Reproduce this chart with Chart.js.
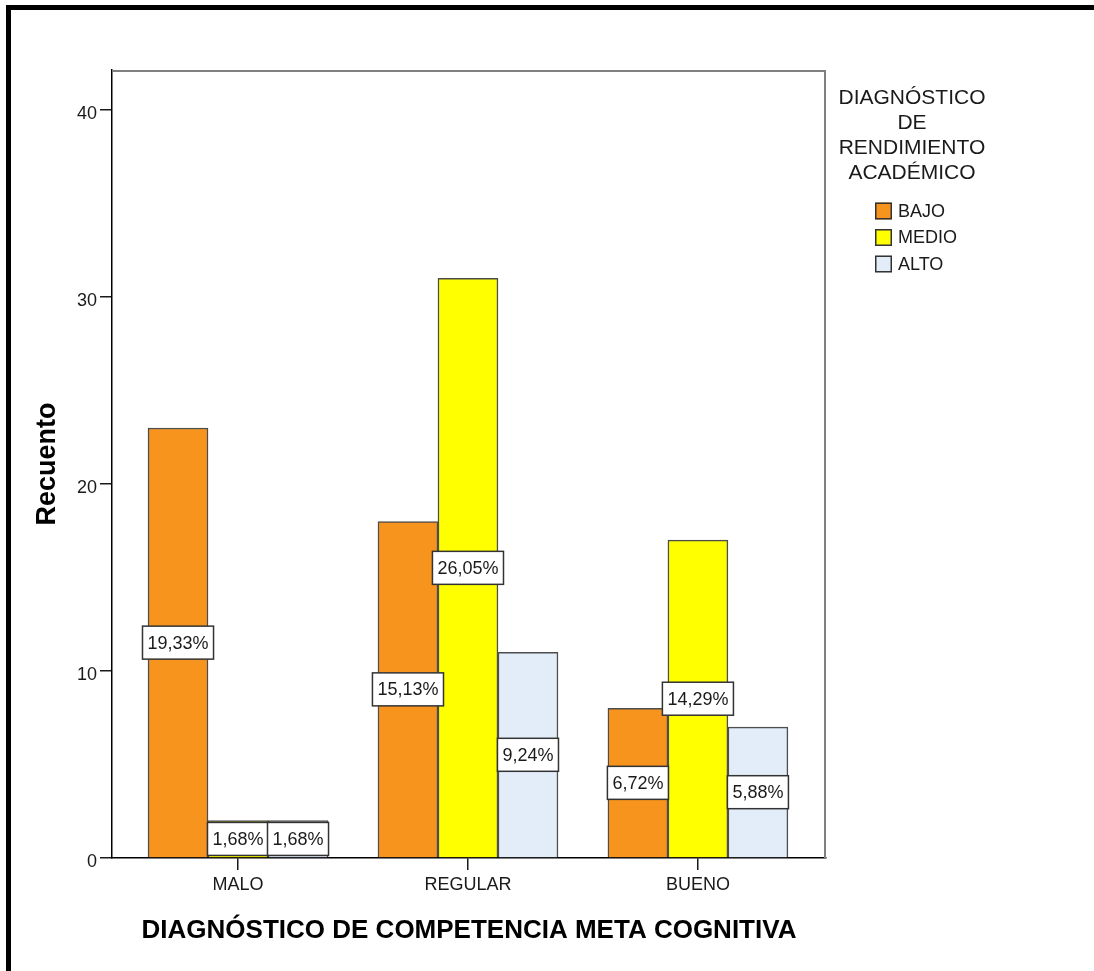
<!DOCTYPE html>
<html>
<head>
<meta charset="utf-8">
<script src="https://cdn.jsdelivr.net/npm/chart.js@4.4.1/dist/chart.umd.min.js"></script>
<style>
  html, body { margin: 0; padding: 0; background: #fff; overflow: hidden; }
  #frame { position: absolute; left: 6px; top: 5px; width: 1100px; height: 980px;
           border-top: 5px solid #000; border-left: 5px solid #000; }
  #wrap { position: absolute; left: 0; top: 0; width: 1094px; height: 971px; }
</style>
</head>
<body>
<div id="frame"></div>
<div id="wrap"><canvas id="chart" width="1094" height="971"></canvas></div>
<script>
// Datos
const categories = ['MALO', 'REGULAR', 'BUENO'];
const seriesNames = ['BAJO', 'MEDIO', 'ALTO'];
const bajo = [23, 18, 8];
const medio = [2, 31, 17];
const alto = [2, 11, 7];
const pctBajo = ['19,33%', '15,13%', '6,72%'];
const pctMedio = ['1,68%', '26,05%', '14,29%'];
const pctAlto = ['1,68%', '9,24%', '5,88%'];
const yTicks = [0, 10, 20, 30, 40];
const legendTitle = ['DIAGNÓSTICO', 'DE', 'RENDIMIENTO', 'ACADÉMICO'];

const FONT = '"Liberation Sans", Arial, sans-serif';
const TXT = '#1a1a1a';
Chart.defaults.font.family = FONT;

const colors = ['#F7941E', '#FFFF00', '#E2EDF9'];
const values = [bajo, medio, alto];
const pcts = [pctBajo, pctMedio, pctAlto];

// Marco superior/derecho gris del área del gráfico
const frameLines = {
  id: 'frameLines',
  afterDatasetsDraw(chart) {
    const { ctx, chartArea: a } = chart;
    ctx.save();
    ctx.strokeStyle = '#808080';
    ctx.lineWidth = 2;
    ctx.beginPath();
    ctx.moveTo(a.left, a.top + 1);
    ctx.lineTo(a.right - 1, a.top + 1);
    ctx.lineTo(a.right - 1, a.bottom);
    ctx.stroke();
    ctx.restore();
  }
};

// Etiquetas de porcentaje en el centro de cada barra
const barLabels = {
  id: 'barLabels',
  afterDatasetsDraw(chart) {
    const ctx = chart.ctx;
    ctx.save();
    ctx.font = '18px ' + FONT;
    ctx.textAlign = 'center';
    ctx.textBaseline = 'middle';
    chart.data.datasets.forEach((ds, di) => {
      const meta = chart.getDatasetMeta(di);
      meta.data.forEach((bar, i) => {
        const txt = pcts[di][i];
        const cy = (bar.y + bar.base) / 2;
        const w = ctx.measureText(txt).width + 10;
        const h = 33;
        ctx.fillStyle = '#fff';
        ctx.fillRect(bar.x - w / 2, cy - h / 2, w, h);
        ctx.strokeStyle = '#333';
        ctx.lineWidth = 1.5;
        ctx.strokeRect(bar.x - w / 2, cy - h / 2, w, h);
        ctx.fillStyle = TXT;
        ctx.fillText(txt, bar.x, cy + 1);
      });
    });
    ctx.restore();
  }
};

// Leyenda a la derecha con título de varias líneas
const sideLegend = {
  id: 'sideLegend',
  afterDraw(chart) {
    const { ctx, chartArea: a } = chart;
    const cx = a.right + 86;
    ctx.save();
    ctx.fillStyle = TXT;
    ctx.font = '21px ' + FONT;
    ctx.textAlign = 'center';
    ctx.textBaseline = 'middle';
    legendTitle.forEach((t, i) => ctx.fillText(t, cx, 98 + i * 25));
    ctx.font = '18px ' + FONT;
    ctx.textAlign = 'left';
    chart.data.datasets.forEach((ds, i) => {
      const y = 211 + i * 26.5;
      const bx = a.right + 49;
      ctx.fillStyle = ds.backgroundColor;
      ctx.fillRect(bx, y - 8.5, 17, 17);
      ctx.strokeStyle = '#333';
      ctx.lineWidth = 1.5;
      ctx.strokeRect(bx + 0.75, y - 7.75, 15.5, 15.5);
      ctx.fillStyle = TXT;
      ctx.fillText(ds.label, bx + 23, y + 1);
    });
    ctx.restore();
  }
};

new Chart(document.getElementById('chart').getContext('2d'), {
  type: 'bar',
  data: {
    datasets: seriesNames.map((name, di) => ({
      label: name,
      data: values[di].map((v, i) => ({ x: i, y: v })),
      backgroundColor: colors[di],
      borderColor: '#4d4d4d',
      borderWidth: 1.5,
      barThickness: 60
    }))
  },
  options: {
    responsive: false,
    animation: false,
    layout: { padding: { top: 70, right: 268, left: 0, bottom: 0 } },
    plugins: { legend: { display: false }, tooltip: { enabled: false } },
    scales: {
      x: {
        type: 'linear',
        offset: false,
        min: -0.548,
        max: 2.557,
        afterBuildTicks: s => { s.ticks = categories.map((c, i) => ({ value: i })); },
        afterFit: s => { s.height = 113; },
        ticks: {
          callback: v => categories[v],
          font: { size: 18 },
          color: TXT,
          padding: 4,
          maxRotation: 0,
          autoSkip: false
        },
        grid: { offset: false, drawOnChartArea: false, drawTicks: true, tickLength: 12, color: TXT, lineWidth: 1.5 },
        border: { color: '#000', width: 1.5 },
        title: {
          display: true,
          text: 'DIAGNÓSTICO DE COMPETENCIA META COGNITIVA',
          font: { size: 26, weight: 'bold' },
          color: '#000',
          padding: { top: 0, bottom: 25 }
        }
      },
      y: {
        min: 0,
        max: 42.15,
        afterBuildTicks: s => { s.ticks = yTicks.map(v => ({ value: v })); },
        afterFit: s => { s.width = 112; },
        ticks: { font: { size: 18 }, color: TXT, padding: 3, labelOffset: 4 },
        grid: { drawOnChartArea: false, drawTicks: true, tickLength: 12, color: TXT, lineWidth: 1.5 },
        border: { color: '#000', width: 1.5 },
        title: {
          display: true,
          text: 'Recuento',
          font: { size: 27, weight: 'bold' },
          color: '#000',
          padding: { top: 31, bottom: 0 }
        }
      }
    }
  },
  plugins: [frameLines, barLabels, sideLegend]
});
</script>
</body>
</html>
